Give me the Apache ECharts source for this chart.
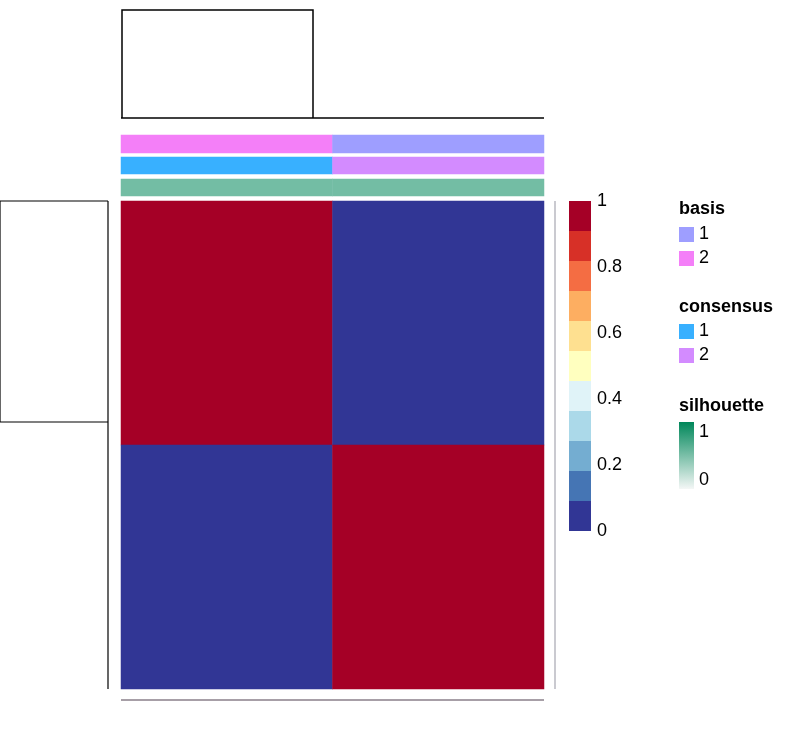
<!DOCTYPE html><html><head><meta charset="utf-8"><script src="https://cdn.jsdelivr.net/npm/echarts@6/dist/echarts.min.js"></script></head><body style="margin:0"><div id="c" style="width:795px;height:738px"></div><script>
const cols=['c1','c2'];
const rows=['r1','r2'];
const consensusMatrix=[[1,0],[0,1]]; // rows top->bottom
const basisVals=[2,1];
const consensusVals=[1,2];
const silhouetteVals=[0.55,0.55];
const colorSteps=['#313695','#4575B4','#74ADD1','#ABD9E9','#E0F3F8','#FFFFBF','#FEE090','#FDAE61','#F46D43','#D73027','#A50026'];
const tickLabels=[0,0.2,0.4,0.6,0.8,1];
const ch=echarts.init(document.getElementById('c'));
const heat=[];
consensusMatrix.forEach((r,i)=>r.forEach((v,j)=>heat.push([j,rows.length-1-i,v])));
function ann(vals){return vals.map((v,j)=>[j,0,v]);}
const grids=[{left:121,top:201,width:423,height:488},{left:121,top:135,width:423,height:18},{left:121,top:157,width:423,height:17},{left:121,top:179,width:423,height:17},{left:569,top:201,width:22,height:330}];
const xA=grids.slice(0,4).map((g,i)=>({type:'category',data:cols,gridIndex:i,show:false}));
const yA=[{type:'category',data:rows,gridIndex:0,show:false},{type:'category',data:['a'],gridIndex:1,show:false},{type:'category',data:['a'],gridIndex:2,show:false},{type:'category',data:['a'],gridIndex:3,show:false}];
xA.push({type:'category',data:['k'],gridIndex:4,show:false});
yA.push({type:'value',gridIndex:4,min:0,max:1,interval:0.2,position:'right',axisLine:{show:false},axisTick:{show:false},splitLine:{show:false},axisLabel:{fontSize:18,color:'#000',fontFamily:'Arial, Liberation Sans',margin:6,formatter:v=>String(+v.toFixed(1))}});
const series=[
{type:'heatmap',xAxisIndex:0,yAxisIndex:0,data:heat},
{type:'heatmap',xAxisIndex:1,yAxisIndex:1,data:ann(basisVals)},
{type:'heatmap',xAxisIndex:2,yAxisIndex:2,data:ann(consensusVals)},
{type:'heatmap',xAxisIndex:3,yAxisIndex:3,data:ann(silhouetteVals)}];
colorSteps.forEach(c=>series.push({type:'bar',xAxisIndex:4,yAxisIndex:4,stack:'cb',barWidth:'100%',data:[1/colorSteps.length],itemStyle:{color:c},silent:true}));
const L='#000';
const txt=(x,y,t,b)=>({type:'text',left:x,top:y,style:{text:t,fontSize:18,fontWeight:b?'bold':'normal',fill:'#000',fontFamily:'Arial, Liberation Sans'}});
const sw=(y,c)=>({type:'rect',shape:{x:679,y:y,width:15,height:15},style:{fill:c}});
ch.setOption({animation:false,grid:grids,xAxis:xA,yAxis:yA,series,
visualMap:[
{show:false,type:'continuous',min:0,max:1,seriesIndex:0,inRange:{color:['#313695','#A50026']}},
{show:false,type:'piecewise',seriesIndex:1,pieces:[{value:1,color:'#9E9EFF'},{value:2,color:'#F47FF8'}]},
{show:false,type:'piecewise',seriesIndex:2,pieces:[{value:1,color:'#38B0FF'},{value:2,color:'#D38BFF'}]},
{show:false,type:'continuous',min:0,max:1,seriesIndex:3,inRange:{color:['#FFFFFF','#00875A']}}],
graphic:[
{type:'polyline',shape:{points:[[122,118],[122,10],[313,10],[313,118]]},style:{stroke:L,lineWidth:1.5,fill:null}},
{type:'line',shape:{x1:121,y1:118,x2:544,y2:118},style:{stroke:L,lineWidth:1.5}},
{type:'polyline',shape:{points:[[108,201],[0,201],[0,422],[108,422]]},style:{stroke:L,lineWidth:1.2,fill:null}},
{type:'line',shape:{x1:108,y1:201,x2:108,y2:689},style:{stroke:L,lineWidth:1.2}},
{type:'line',shape:{x1:121,y1:700,x2:544,y2:700},style:{stroke:'#8a7f8a',lineWidth:1.5}},
{type:'line',shape:{x1:555,y1:201,x2:555,y2:689},style:{stroke:'#b8b8c0',lineWidth:1.5}},
txt(679,200,'basis',true),sw(227,'#9E9EFF'),txt(699,225,'1'),sw(251,'#F47FF8'),txt(699,249,'2'),
txt(679,298,'consensus',true),sw(324,'#38B0FF'),txt(699,322,'1'),sw(348,'#D38BFF'),txt(699,346,'2'),
txt(679,397,'silhouette',true),
{type:'rect',shape:{x:679,y:422,width:15,height:67},style:{fill:{type:'linear',x:0,y:0,x2:0,y2:1,colorStops:[{offset:0,color:'#00875A'},{offset:1,color:'#F4F7F6'}]}}},
txt(699,423,'1'),txt(699,471,'0')
]});
</script></body></html>
